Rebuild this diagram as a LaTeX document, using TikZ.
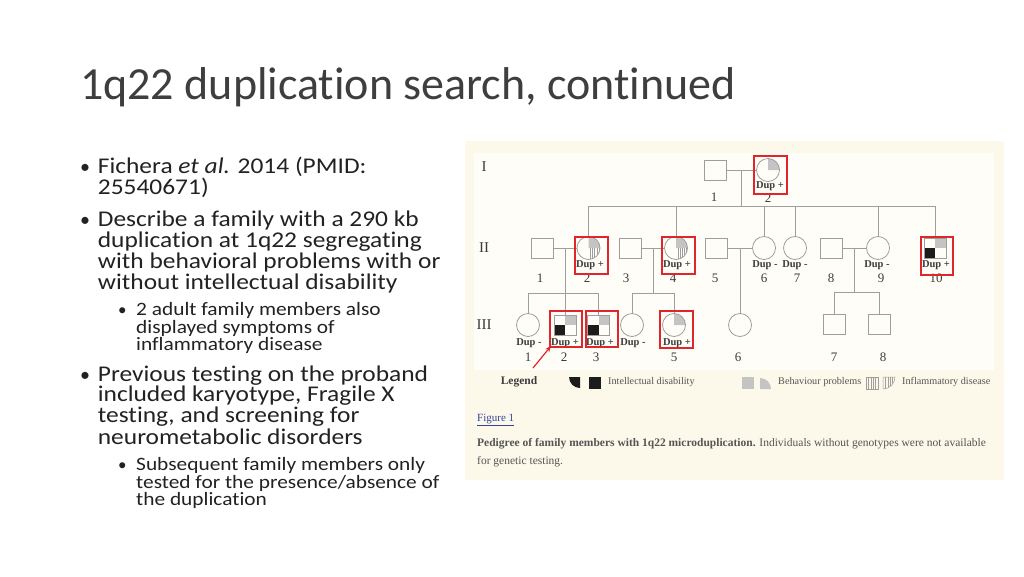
\documentclass[tikz,border=0pt]{standalone}
\usepackage{fontspec}
\setmainfont{Carlito}[Ligatures={NoCommon,NoRare,NoDiscretionary}]
\newfontfamily\bodyf{Carlito}[FakeStretch=1.13,Ligatures={NoCommon,NoRare,NoDiscretionary}]
\newfontfamily\tms{Liberation Serif}
\usetikzlibrary{arrows.meta}
\definecolor{titlec}{HTML}{3E3E3E}
\definecolor{bodyc}{HTML}{222222}
\definecolor{panelout}{HTML}{FCF8EA}
\definecolor{panelin}{HTML}{FEFDF8}
\definecolor{pline}{HTML}{9E9E9E}
\definecolor{pgray}{HTML}{C4C4C4}
\definecolor{pblack}{HTML}{1C1C1C}
\definecolor{pred}{HTML}{E0262B}
\definecolor{ptext}{HTML}{3C3C3C}
\definecolor{capc}{HTML}{555555}
\definecolor{linkc}{HTML}{34459A}
\begin{document}
\begin{tikzpicture}[x=1pt,y=-1pt,
  bodyline/.style={anchor=base west,inner sep=0,text=bodyc,font=\bodyf\fontsize{22.5}{24}\selectfont},
  subline/.style={anchor=base west,inner sep=0,text=bodyc,font=\bodyf\fontsize{18.9}{20}\selectfont},
  bul/.style={anchor=base west,inner sep=0,text=bodyc,font=\fontsize{20}{22}\selectfont},
  sbul/.style={anchor=base west,inner sep=0,text=bodyc,font=\fontsize{17}{18}\selectfont},
  male/.style={draw=pline,line width=0.8pt,rectangle,minimum width=22pt,minimum height=20pt,inner sep=0},
  female/.style={draw=pline,line width=0.8pt,circle,minimum size=23pt,inner sep=0},
  pedl/.style={draw=pline,line width=0.8pt},
  redbox/.style={draw=pred,line width=1.1pt,rectangle,inner sep=0},
  dup/.style={inner sep=0,text=ptext,font=\tms\bfseries\fontsize{10.5}{12}\selectfont},
  num/.style={inner sep=0,text=ptext,font=\tms\fontsize{13}{14}\selectfont},
  gen/.style={inner sep=0,text=ptext,font=\tms\fontsize{15}{16}\selectfont},
  legt/.style={anchor=west,inner sep=0,text=capc,font=\tms\fontsize{10.2}{12}\selectfont},
  stripe/.style={draw=pline,line width=0.5pt}]
\useasboundingbox (0,0) rectangle (1024,576);
\fill[white] (0,0) rectangle (1024,576);

% ---------- title ----------
\node[anchor=base west,inner sep=0,text=titlec,font=\fontsize{46}{48}\selectfont] (title) at (80,99) {1q22 duplication search, continued};

% ---------- bullets ----------
\node[bul] (k1) at (80,173.3) {•};
\node[bodyline] (b1) at (97.7,173.3) {Fichera \textit{et al.} 2014 (PMID:};
\node[bodyline] (b2) at (97.7,194) {25540671)};
\node[bul] (k2) at (80,226) {•};
\node[bodyline] (b3) at (97.7,226) {Describe a family with a 290 kb};
\node[bodyline] (b4) at (97.7,247.3) {duplication at 1q22 segregating};
\node[bodyline] (b5) at (97.7,268.3) {with behavioral problems with or};
\node[bodyline] (b6) at (97.7,289) {without intellectual disability};
\node[sbul] (k3) at (118,315) {•};
\node[subline] (s1) at (136,315) {2 adult family members also};
\node[subline] (s2) at (136,333.3) {displayed symptoms of};
\node[subline] (s3) at (136,350.7) {inflammatory disease};
\node[bul] (k4) at (80,381) {•};
\node[bodyline] (b7) at (97.7,381) {Previous testing on the proband};
\node[bodyline] (b8) at (97.7,401.7) {included karyotype, Fragile X};
\node[bodyline] (b9) at (97.7,422.7) {testing, and screening for};
\node[bodyline] (b10) at (97.7,444) {neurometabolic disorders};
\node[sbul] (k5) at (118,470) {•};
\node[subline] (s4) at (136,470) {Subsequent family members only};
\node[subline] (s5) at (136,488.3) {tested for the presence/absence of};
\node[subline] (s6) at (136,505) {the duplication};

% ---------- figure panel ----------
\fill[panelout] (465,141) rectangle (1004,480);
\fill[panelin] (474,153) rectangle (994,370);

% centres
\coordinate (cI1) at (715,170);   \coordinate (cI2) at (768,170);
\coordinate (cII1) at (542.5,248); \coordinate (cII2) at (588.5,248);
\coordinate (cII3) at (630,248);   \coordinate (cII4) at (676,248);
\coordinate (cII5) at (716.5,248); \coordinate (cII6) at (764,248);
\coordinate (cII7) at (795,248);   \coordinate (cII8) at (831.5,248);
\coordinate (cII9) at (878,248);   \coordinate (cII10) at (935,248);
\coordinate (cIII1) at (528,325);  \coordinate (cIII2) at (565,325);
\coordinate (cIII3) at (598.5,325);\coordinate (cIII4) at (632,325);
\coordinate (cIII5) at (674,325);  \coordinate (cIII6) at (740,325);
\coordinate (cIII7) at (834,324);  \coordinate (cIII8) at (879,324);

% fills: behaviour (upper right, grey) on circles
\foreach \c in {cI2,cII2,cII4,cIII5}
  \fill[pgray] (\c) -- ++(0:11.5) arc[start angle=0,end angle=-90,radius=11.5] -- cycle;
% inflammatory stripes (lower right) on II-2, II-4
\foreach \c in {cII2,cII4}{
  \begin{scope}
    \clip (\c) -- ++(0:11.5) arc[start angle=0,end angle=90,radius=11.5] -- cycle;
    \foreach \k in {1.8,4,6.2,8.4,10.6}
      \draw[stripe] ([xshift=\k pt]\c) -- ++(0,12);
  \end{scope}}
% squares: grey upper right, black lower left
\foreach \c in {cII10,cIII2,cIII3}{
  \fill[pgray] (\c) rectangle ++(11,-10);
  \fill[pblack] (\c) rectangle ++(-11,10);}

% individuals
\node[male] (I1) at (cI1) {};
\node[female] (I2) at (cI2) {};
\node[male] (II1) at (cII1) {};
\node[female] (II2) at (cII2) {};
\node[male] (II3) at (cII3) {};
\node[female] (II4) at (cII4) {};
\node[male] (II5) at (cII5) {};
\node[female] (II6) at (cII6) {};
\node[female] (II7) at (cII7) {};
\node[male] (II8) at (cII8) {};
\node[female] (II9) at (cII9) {};
\node[male] (II10) at (cII10) {};
\node[female] (III1) at (cIII1) {};
\node[male] (III2) at (cIII2) {};
\node[male] (III3) at (cIII3) {};
\node[female] (III4) at (cIII4) {};
\node[female] (III5) at (cIII5) {};
\node[female] (III6) at (cIII6) {};
\node[male] (III7) at (cIII7) {};
\node[male] (III8) at (cIII8) {};

% generation I lines
\coordinate (mI) at (741,170);
\coordinate (sibI) at (741,206);
\draw[pedl] (I1.east) -- (I2.west);
\draw[pedl] (mI) -- (sibI);
\draw[pedl] (II2.north |- sibI) -- (II10.north |- sibI);
\foreach \n in {II2,II4,II6,II7,II9,II10}
  \draw[pedl] (\n.north |- sibI) -- (\n.north);

% generation II marriages
\coordinate (mA) at (565,248);   \coordinate (sibA) at (565,293);
\coordinate (mB) at (653,248);   \coordinate (sibB) at (653,293);
\coordinate (mC) at (740,248);
\coordinate (mD) at (854.5,248); \coordinate (sibD) at (854.5,292);
\draw[pedl] (II1.east) -- (II2.west);
\draw[pedl] (II3.east) -- (II4.west);
\draw[pedl] (II5.east) -- (II6.west);
\draw[pedl] (II8.east) -- (II9.west);
\draw[pedl] (mA) -- (III2.north);
\draw[pedl] (III1.north |- sibA) -- (III3.north |- sibA);
\foreach \n in {III1,III3} \draw[pedl] (\n.north |- sibA) -- (\n.north);
\draw[pedl] (mB) -- (sibB);
\draw[pedl] (III4.north |- sibB) -- (III5.north |- sibB);
\foreach \n in {III4,III5} \draw[pedl] (\n.north |- sibB) -- (\n.north);
\draw[pedl] (mC) -- (III6.north);
\draw[pedl] (mD) -- (sibD);
\draw[pedl] (III7.north |- sibD) -- (III8.north |- sibD);
\foreach \n in {III7,III8} \draw[pedl] (\n.north |- sibD) -- (\n.north);

% generation labels
\node[gen] (gI) at (484,167) {I};
\node[gen] (gII) at (484,248) {II};
\node[gen] (gIII) at (484,325) {III};

% genotype labels
\node[dup] (dI2) at (770,186) {Dup +};
\node[dup] (dII2) at (590,265) {Dup +};
\node[dup] (dII4) at (677,265) {Dup +};
\node[dup] (dII6) at (765,265) {Dup -};
\node[dup] (dII7) at (795,265) {Dup -};
\node[dup] (dII9) at (877,265) {Dup -};
\node[dup] (dII10) at (936,265) {Dup +};
\node[dup] (dIII1) at (529,343) {Dup -};
\node[dup] (dIII2) at (565,343) {Dup +};
\node[dup] (dIII3) at (600,343) {Dup +};
\node[dup] (dIII4) at (633,343) {Dup -};
\node[dup] (dIII5) at (677,343) {Dup +};

% numbers
\node[num] (nI1) at (714,197) {1};
\node[num] (nI2) at (768,198) {2};
\foreach \t/\x in {1/540,2/587,3/626,4/673,5/715,6/764,7/797,8/831,9/881,10/936}
  \node[num] (nII\t) at (\x,278) {\t};
\foreach \t/\x in {1/528,2/564,3/596,5/674,6/738,7/834,8/883}
  \node[num] (nIII\t) at (\x,357.5) {\t};

% red boxes
\node[redbox,minimum width=33pt,minimum height=38pt] (rI2) at (770.5,175) {};
\node[redbox,minimum width=33pt,minimum height=37pt] (rII2) at (591.5,255.5) {};
\node[redbox,minimum width=33pt,minimum height=37pt] (rII4) at (678.5,255.5) {};
\node[redbox,minimum width=32pt,minimum height=38pt] (rII10) at (937,256) {};
\node[redbox,minimum width=32pt,minimum height=36pt] (rIII2) at (566,329) {};
\node[redbox,minimum width=32pt,minimum height=36pt] (rIII3) at (602,329) {};
\node[redbox,minimum width=33pt,minimum height=37pt] (rIII5) at (676.5,329.5) {};

% proband arrow
\coordinate (arrtail) at (533,368);
\draw[pred,line width=1.2pt,-{Stealth[length=6pt,width=5pt]}] (arrtail) -- ([shift={(1.5,-1.5)}]rIII2.south west);

% legend
\node[inner sep=0,text=ptext,font=\tms\bfseries\fontsize{11.5}{13}\selectfont] (leg) at (519,382) {Legend};
\fill[pblack] (580,377) -- ++(180:11) arc[start angle=180,end angle=90,radius=11] -- cycle;
\fill[pblack] (589,377) rectangle (601,389);
\node[legt] (lid) at (608,382) {Intellectual disability};
\fill[pgray] (742,377) rectangle (754,389);
\fill[pgray] (760,389) -- ++(-90:11) arc[start angle=-90,end angle=0,radius=11] -- cycle;
\node[legt] (lbp) at (778,382) {Behaviour problems};
\draw[stripe] (866,377) rectangle (878,389);
\foreach \k in {868.4,870.8,873.2,875.6} \draw[stripe] (\k,377) -- (\k,389);
\begin{scope}
  \clip (883,377) -- ++(0:12) arc[start angle=0,end angle=90,radius=12] -- cycle;
  \foreach \k in {885.4,887.8,890.2,892.6} \draw[stripe] (\k,377) -- (\k,389);
\end{scope}
\draw[stripe] (883,389) -- (883,377) -- (895,377) arc[start angle=0,end angle=90,radius=12];
\node[legt] (lin) at (902,382) {Inflammatory disease};

% caption
\node[anchor=base west,inner sep=0,text=linkc,font=\tms\fontsize{11}{13}\selectfont] (fig) at (477,421.5) {\underline{Figure 1}};
\node[anchor=base west,inner sep=0,text=capc,font=\tms\fontsize{11.5}{13}\selectfont] (cap1) at (477,446.5) {\textbf{Pedigree of family members with 1q22 microduplication.} Individuals without genotypes were not available};
\node[anchor=base west,inner sep=0,text=capc,font=\tms\fontsize{11.5}{13}\selectfont] (cap2) at (477,464) {for genetic testing.};
\end{tikzpicture}
\end{document}
